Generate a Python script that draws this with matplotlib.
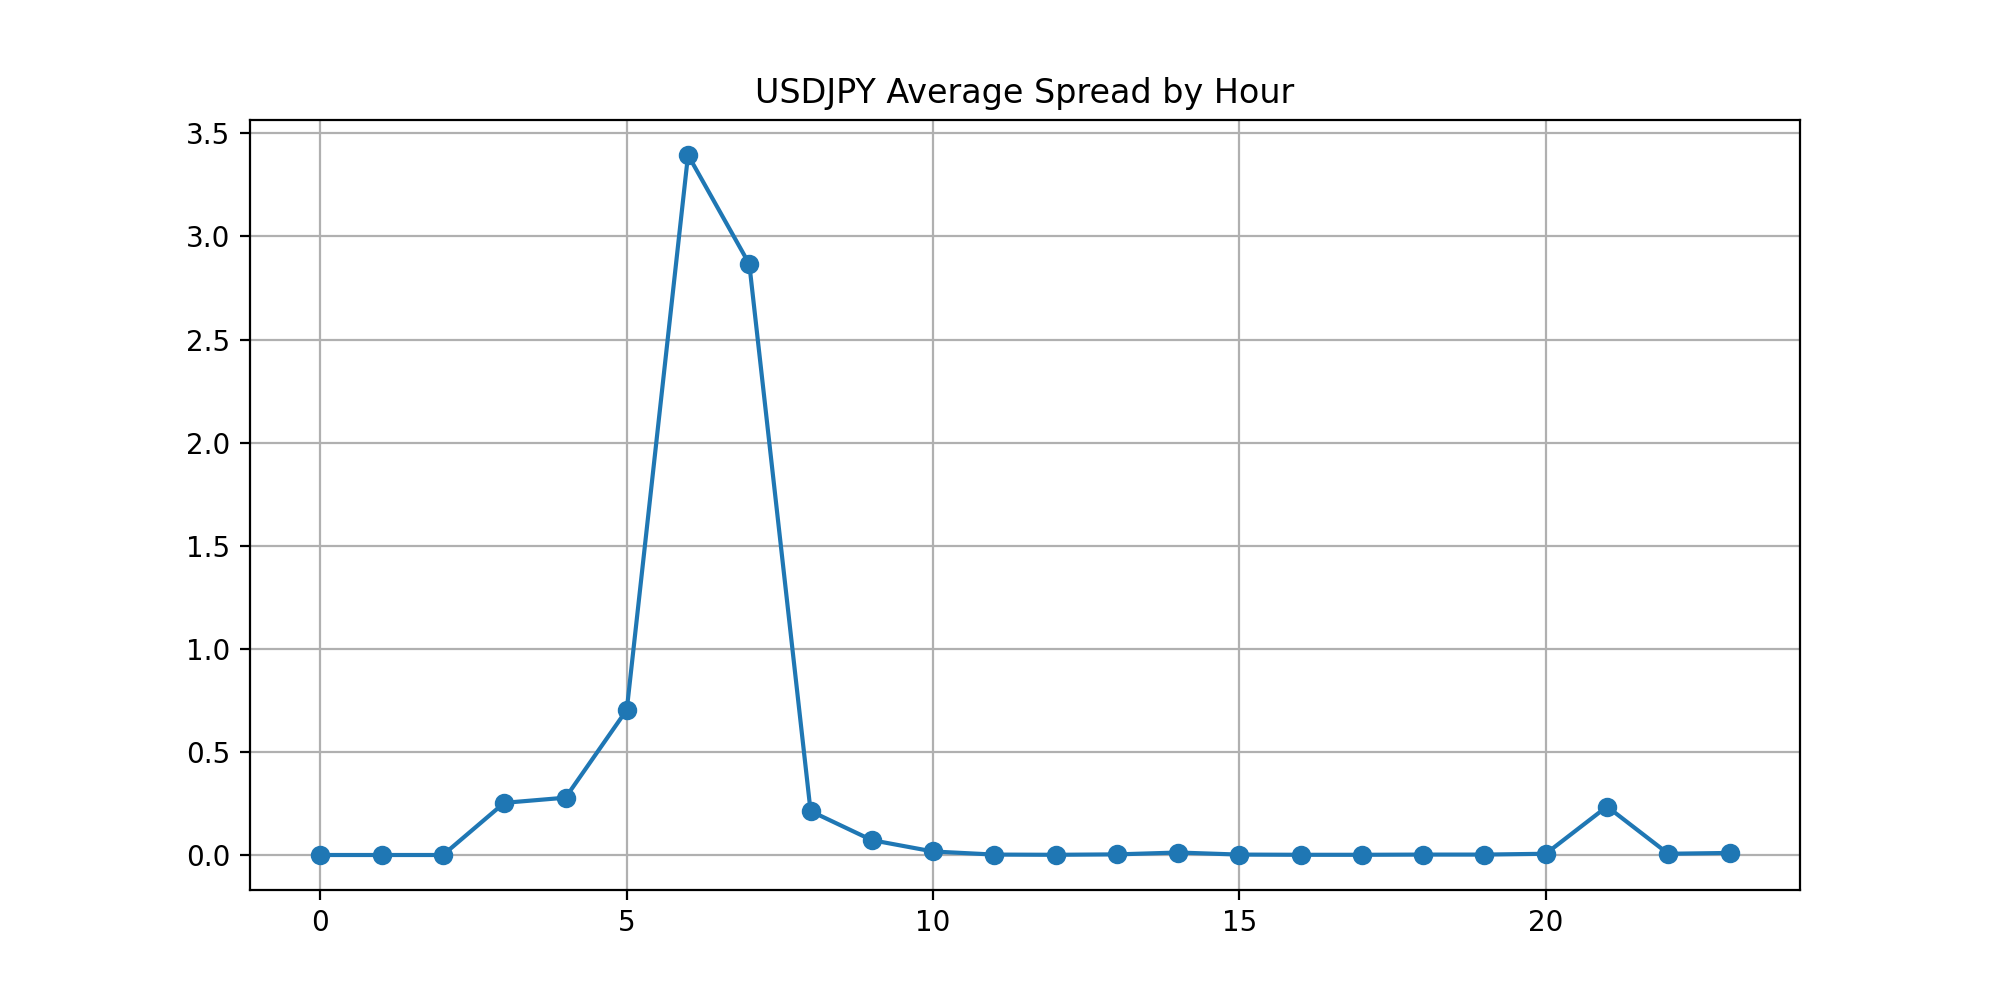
import matplotlib
matplotlib.use("Agg")
import matplotlib.pyplot as plt

hours = list(range(24))
spread = [0.0, 0.0, 0.0, 0.253, 0.278, 0.704, 3.395, 2.866, 0.213, 0.072, 0.017,
          0.002, 0.001, 0.003, 0.012, 0.002, 0.001, 0.001, 0.002, 0.002, 0.006,
          0.235, 0.006, 0.010]

fig, ax = plt.subplots(figsize=(10, 5), dpi=200)
ax.plot(hours, spread, marker="o")
ax.set_title("USDJPY Average Spread by Hour")
ax.grid(True)
fig.savefig("out.png")
